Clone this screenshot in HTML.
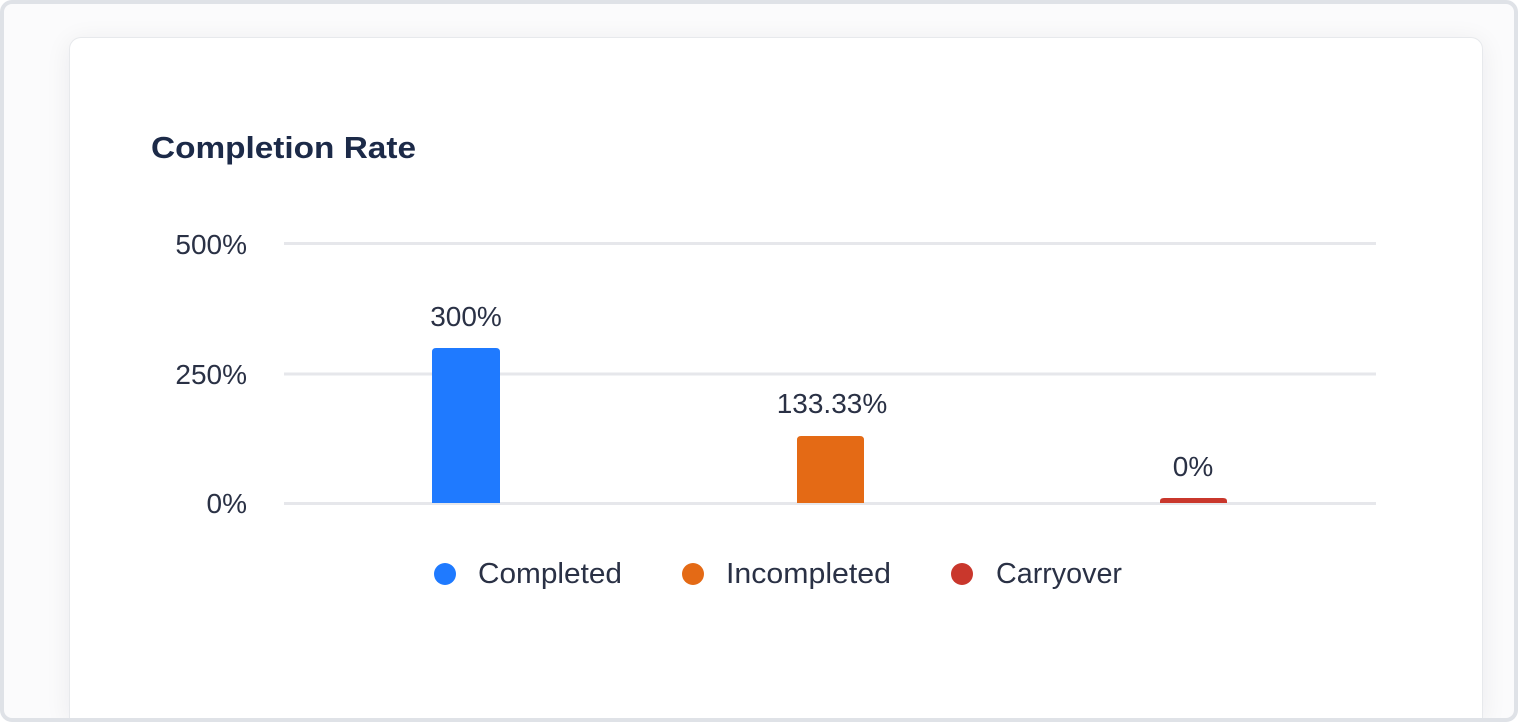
<!DOCTYPE html>
<html>
<head>
<meta charset="utf-8">
<style>
  html,body{margin:0;padding:0;background:#ffffff;}
  body{width:1518px;height:722px;overflow:hidden;position:relative;font-family:"Liberation Sans",sans-serif;}
  .frame{position:absolute;left:0;top:0;width:1510px;height:714px;border:4px solid #dfe2e7;border-radius:12px;background:#fbfbfc;overflow:hidden;}
  .card{position:absolute;left:65px;top:33px;width:1412px;height:681px;background:#ffffff;border:1px solid #e7e9ec;border-bottom:0;border-radius:12px 12px 0 0;box-shadow:0 4px 26px rgba(15,23,42,0.07);}
  svg{position:absolute;left:0;top:0;}
</style>
</head>
<body>
<div class="frame">
  <div class="card"></div>
</div>
<svg width="1518" height="722" viewBox="0 0 1518 722" xmlns="http://www.w3.org/2000/svg">
  <text x="151" y="158" font-family="Liberation Sans, sans-serif" font-weight="700" font-size="31" fill="#1c2a48" textLength="265" lengthAdjust="spacingAndGlyphs">Completion Rate</text>

  <!-- gridlines -->
  <rect x="284" y="242" width="1092" height="3" fill="#e6e7eb"/>
  <rect x="284" y="372.5" width="1092" height="3" fill="#e6e7eb"/>
  <rect x="284" y="502" width="1092" height="3" fill="#e6e7eb"/>

  <!-- y axis labels -->
  <g font-family="Liberation Sans, sans-serif" font-size="28" fill="#2a3145" text-anchor="end">
    <text x="247" y="254">500%</text>
    <text x="247" y="384">250%</text>
    <text x="247" y="513">0%</text>
  </g>

  <!-- bars -->
  <path d="M432 503 V352 Q432 348 436 348 H496 Q500 348 500 352 V503 Z" fill="#1f7aff"/>
  <path d="M797 503 V440 Q797 436 801 436 H860 Q864 436 864 440 V503 Z" fill="#e46a15"/>
  <path d="M1160 503 V501 Q1160 498 1164 498 H1223 Q1227 498 1227 501 V503 Z" fill="#c9372c"/>

  <!-- value labels -->
  <g font-family="Liberation Sans, sans-serif" font-size="28" fill="#2a3145" text-anchor="middle">
    <text x="466" y="326">300%</text>
    <text x="832" y="413">133.33%</text>
    <text x="1193" y="476">0%</text>
  </g>

  <!-- legend -->
  <circle cx="445" cy="574" r="11" fill="#1f7aff"/>
  <circle cx="693" cy="574" r="11" fill="#e46a15"/>
  <circle cx="962" cy="574" r="11" fill="#c9372c"/>
  <g font-family="Liberation Sans, sans-serif" font-size="29" fill="#2a3145">
    <text x="478" y="583" textLength="144" lengthAdjust="spacingAndGlyphs">Completed</text>
    <text x="726" y="583" textLength="165" lengthAdjust="spacingAndGlyphs">Incompleted</text>
    <text x="996" y="583" textLength="126" lengthAdjust="spacingAndGlyphs">Carryover</text>
  </g>
</svg>
</body>
</html>
